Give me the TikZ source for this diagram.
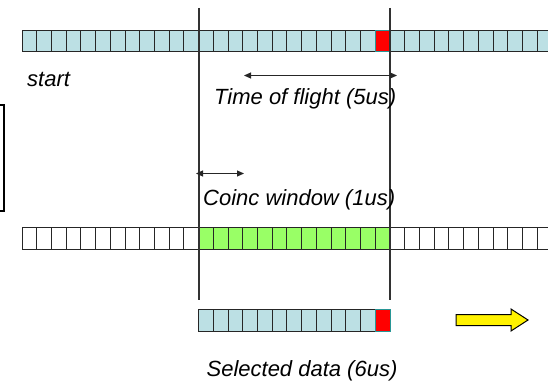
\documentclass[tikz,border=0pt]{standalone}
\usepackage{fontspec}
\setmainfont{Liberation Sans}
\usetikzlibrary{arrows.meta}
\definecolor{cellblue}{RGB}{188,224,228}
\definecolor{cellgreen}{RGB}{153,255,102}
\definecolor{hitedge}{RGB}{40,150,150}
\definecolor{rulegray}{RGB}{50,50,50}
\tikzset{
  cell/.style={draw=black!85, line width=1pt, minimum width=14.72pt,
    minimum height=21.5pt, inner sep=0pt, outer sep=0pt, anchor=north west},
  plain/.style={cell, fill=white},
  raw/.style={cell, fill=cellblue},
  coinc/.style={cell, fill=cellgreen},
  hit/.style={cell, fill=red, draw=hitedge},
  caption/.style={font=\fontsize{22}{26}\selectfont\itshape, inner sep=0pt},
  marker/.style={draw=rulegray, line width=1.2pt},
  span/.style={draw=black!85, line width=1pt,
    {Triangle[length=7pt,width=6pt]}-{Triangle[length=7pt,width=6pt]}},
  flow/.style={draw=black, line width=1pt, fill=yellow},
}
\begin{document}
\begin{tikzpicture}[x=1pt,y=-1pt]
\useasboundingbox (0,0) rectangle (548,382);
\clip (0,0) rectangle (548,382);

% incoming data stream
\foreach \i in {0,...,23} \node[raw] (top\i) at (22+14.72*\i,30.5) {};
\node[hit] (top24) at (22+14.72*24,30.5) {};
\foreach \i in {25,...,36} \node[raw] (top\i) at (22+14.72*\i,30.5) {};

% coincidence window in the stream
\foreach \i in {0,...,11} \node[plain] (mid\i) at (22+14.72*\i,227.5) {};
\foreach \i in {12,...,24} \node[coinc] (mid\i) at (22+14.72*\i,227.5) {};
\foreach \i in {25,...,36} \node[plain] (mid\i) at (22+14.72*\i,227.5) {};

% selected block
\foreach \i in {12,...,23} \node[raw] (sel\i) at (22+14.72*\i,309.5) {};
\node[hit] (sel24) at (22+14.72*24,309.5) {};

% window boundaries
\coordinate (wlTop) at (199,8);
\coordinate (wlBot) at (199,300);
\coordinate (wrTop) at (390,8);
\coordinate (wrBot) at (390,300);
\draw[marker] (wlTop) -- (wlBot);
\draw[marker] (wrTop) -- (wrBot);

% side box
\draw[line width=1.2pt] (-5,105) rectangle (4,211);

% time spans
\coordinate (tofA) at (244,75.5);
\coordinate (tofB) at (397,75.5);
\draw[span] (tofA) -- (tofB);
\coordinate (cwA) at (196,173.5);
\coordinate (cwB) at (244,173.5);
\draw[span] (cwA) -- (cwB);

% labels
\node[caption, anchor=base west] (start) at (27,87) {start};
\node[caption, anchor=base west] (tof) at (214,105) {Time of flight (5us)};
\node[caption, anchor=base west] (cw) at (203,205) {Coinc window (1us)};
\node[caption, anchor=base] (sel) at (302,376) {Selected data (6us)};

% output direction
\draw[flow] (456,314.5) -- (511,314.5) -- (511,309) -- (528,320)
  -- (511,331) -- (511,325.5) -- (456,325.5) -- cycle;
\end{tikzpicture}
\end{document}
